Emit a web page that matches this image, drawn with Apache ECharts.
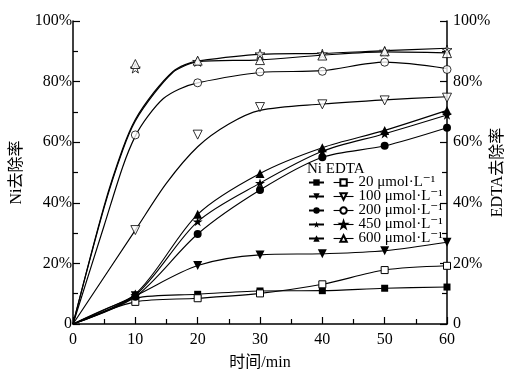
<!DOCTYPE html>
<html>
<head>
<meta charset="utf-8">
<script src="https://cdn.jsdelivr.net/npm/echarts@6/dist/echarts.min.js"></script>
<style>
html, body { margin: 0; padding: 0; background: #fff; }
#chart { width: 524px; height: 379px; }
</style>
</head>
<body>
<div id="chart"></div>
<script>
// 时间 (min)
var timeMin = [0, 10, 20, 30, 40, 50, 60];
var concLabels = ['20', '100', '200', '450', '600'];
var yTicks = [0, 20, 40, 60, 80, 100];

// Ni 去除率 (%), filled markers
var ni20 = [0, 8.5, 9.8, 10.9, 11.0, 11.8, 12.2];
var ni100 = [0, 9.3, 19.3, 22.8, 23.2, 24.2, 27.0];
var ni200 = [0, 9.0, 29.7, 44.2, 55.0, 58.8, 64.8];
var ni450 = [0, 9.5, 33.8, 46.5, 57.0, 62.8, 69.0];
var ni600 = [0, 9.9, 36.2, 49.7, 58.2, 63.9, 70.5];

// EDTA 去除率 (%), open markers
var edta20 = [0, 7.3, 8.5, 10.1, 13.1, 17.8, 19.2];
var edta100 = [0, 31.0, 62.5, 71.6, 72.5, 73.8, 74.7];
var edta200 = [0, 62.4, 79.6, 83.2, 83.4, 86.4, 84.0];
var edta450 = [0, 84.4, 86.6, 89.1, 89.1, 90.0, 90.5];
var edta600 = [0, 85.8, 86.9, 87.1, 88.6, 90.0, 89.4];

// fitted curves of EDTA
var edta100CurveX = [0, 10, 15, 20, 25, 30, 40, 50, 60];
var edta100Curve = [0, 31.0, 46.5, 58.5, 66.0, 70.5, 72.6, 74.0, 75.0];
var edta200CurveX = [0, 5, 8, 10, 12, 14.5, 17, 20, 30, 40, 50, 60];
var edta200Curve = [0, 32.5, 52.0, 62.0, 68.5, 74.4, 77.5, 79.6, 83.0, 83.6, 86.4, 84.3];
var edtaHighCurveX = [0, 5, 8, 10, 13, 16, 18, 20, 30, 40, 50, 60];
var edta450Curve = [0, 39.0, 58.0, 67.5, 76.5, 83.3, 85.6, 86.8, 89.0, 89.3, 90.2, 91.0];
var edta600Curve = [0, 38.5, 57.5, 67.0, 76.0, 83.0, 85.3, 86.6, 87.2, 88.7, 89.8, 89.5];

var FONT = '"Liberation Serif", "DejaVu Serif", "Noto Sans CJK SC", serif';
var STAR = 'path://M50,0 L61.2,34.5 L97.6,34.5 L68.2,55.9 L79.4,90.5 L50,69.1 L20.6,90.5 L31.8,55.9 L2.4,34.5 L38.8,34.5 Z';
var shapes = [
    { symbol: 'rect', rotate: 0, size: 7 },
    { symbol: 'triangle', rotate: 180, size: 9 },
    { symbol: 'circle', rotate: 0, size: 8 },
    { symbol: STAR, rotate: 0, size: 10 },
    { symbol: 'triangle', rotate: 0, size: 9 }
];

function pairs(xs, ys, hideFirst) {
    var out = [];
    for (var i = 0; i < xs.length; i++) {
        if (hideFirst && i === 0) {
            out.push({ value: [xs[i], ys[i]], symbol: 'none' });
        } else {
            out.push([xs[i], ys[i]]);
        }
    }
    return out;
}

var niData = [ni20, ni100, ni200, ni450, ni600];
var edtaData = [edta20, edta100, edta200, edta450, edta600];
var edtaCurves = [
    null,
    [edta100CurveX, edta100Curve],
    [edta200CurveX, edta200Curve],
    [edtaHighCurveX, edta450Curve],
    [edtaHighCurveX, edta600Curve]
];

var series = [];
var niNames = [], edtaNames = [];
for (let i = 0; i < concLabels.length; i++) {
    let sh = shapes[i];
    let nName = 'Ni ' + concLabels[i];
    niNames.push(nName);
    series.push({
        name: nName,
        type: 'line',
        data: pairs(timeMin, niData[i], true),
        smooth: 0.3,
        symbol: sh.symbol,
        symbolSize: sh.size,
        symbolRotate: sh.rotate,
        symbolKeepAspect: true,
        itemStyle: { color: '#000' },
        lineStyle: { color: '#000', width: 1.1 },
        clip: false,
        z: 3
    });

    let eName = 'EDTA ' + concLabels[i];
    edtaNames.push(eName);
    let openStyle = { color: '#fff', borderColor: '#000', borderWidth: 1 };
    if (edtaCurves[i] === null) {
        series.push({
            name: eName,
            type: 'line',
            data: pairs(timeMin, edtaData[i], true),
            smooth: 0.3,
            symbol: sh.symbol,
            symbolSize: sh.size,
            symbolRotate: sh.rotate,
            symbolKeepAspect: true,
            itemStyle: openStyle,
            lineStyle: { color: '#000', width: 1.1 },
            clip: false,
            z: 3
        });
    } else {
        // fitted curve
        series.push({
            name: eName,
            type: 'line',
            data: pairs(edtaCurves[i][0], edtaCurves[i][1], false),
            smooth: 0.3,
            showSymbol: false,
            symbol: sh.symbol,
            symbolSize: sh.size,
            symbolRotate: sh.rotate,
            symbolKeepAspect: true,
            itemStyle: openStyle,
            lineStyle: { color: '#000', width: 1.2 },
            z: 2
        });
        // measured points
        series.push({
            type: 'scatter',
            data: pairs(timeMin.slice(1), edtaData[i].slice(1), false),
            symbol: sh.symbol,
            symbolSize: sh.size,
            symbolRotate: sh.rotate,
            symbolKeepAspect: true,
            itemStyle: openStyle,
            clip: false,
            z: 4
        });
    }
}

var yAxisBase = {
    type: 'value',
    min: 0,
    max: 100,
    interval: 20,
    nameLocation: 'middle',
    nameRotate: 90,
    nameMoveOverlap: false,
    nameTextStyle: { fontFamily: FONT, fontSize: 16, color: '#000' },
    axisLine: { show: true, lineStyle: { color: '#000', width: 1.5 } },
    axisTick: { show: true, inside: true, length: 7, lineStyle: { color: '#000', width: 1.2 } },
    minorTick: { show: true, splitNumber: 2, length: 5, lineStyle: { color: '#000', width: 1.2 } },
    splitLine: { show: false },
    axisLabel: {
        fontFamily: FONT, fontSize: 16, color: '#000',
        formatter: function (v) { return v === 0 ? '0' : v + '%'; }
    }
};

var chart = echarts.init(document.getElementById('chart'), null, { renderer: 'canvas' });
var option = {
    backgroundColor: '#fff',
    animation: false,
    title: {
        text: 'Ni EDTA',
        left: 307,
        top: 162,
        padding: 0,
        textStyle: { fontFamily: FONT, fontSize: 15, fontWeight: 'normal', color: '#000' }
    },
    legend: [{
        data: niNames,
        orient: 'vertical',
        left: 308,
        top: 175,
        padding: 0,
        itemGap: -1,
        itemWidth: 15,
        itemHeight: 8,
        formatter: function () { return ' '; },
        textStyle: { fontFamily: FONT, fontSize: 15, lineHeight: 13.5, color: '#000' }
    }, {
        data: edtaNames,
        orient: 'vertical',
        left: 333,
        top: 175,
        padding: 0,
        itemGap: -1,
        itemWidth: 20,
        itemHeight: 8,
        lineStyle: { color: '#000', width: 1.1 },
        formatter: function (name) { return name.split(' ')[1] + ' μmol·L⁻¹'; },
        textStyle: { fontFamily: FONT, fontSize: 15, lineHeight: 13.5, color: '#000' }
    }],
    grid: { left: 73, right: 77, top: 21, bottom: 55 },
    xAxis: {
        type: 'value',
        min: 0,
        max: 60,
        interval: 10,
        name: '时间/min',
        nameLocation: 'middle',
        nameGap: 31,
        nameMoveOverlap: false,
        nameTextStyle: { fontFamily: FONT, fontSize: 16, color: '#000' },
        axisLine: { lineStyle: { color: '#000', width: 1.5 } },
        axisTick: { inside: true, length: 7, lineStyle: { color: '#000', width: 1.2 } },
        minorTick: { show: true, splitNumber: 2, length: 5, lineStyle: { color: '#000', width: 1.2 } },
        splitLine: { show: false },
        axisLabel: { fontFamily: FONT, fontSize: 16, color: '#000', margin: 8 }
    },
    yAxis: [
        Object.assign({}, yAxisBase, {
            position: 'left', name: 'Ni去除率', nameGap: 48,
            axisLabel: Object.assign({}, yAxisBase.axisLabel, { margin: 1 })
        }),
        Object.assign({}, yAxisBase, {
            position: 'right', name: 'EDTA去除率', nameGap: 43,
            axisLabel: Object.assign({}, yAxisBase.axisLabel, { margin: 6 })
        })
    ],
    series: series
};
chart.setOption(option);
</script>
</body>
</html>
